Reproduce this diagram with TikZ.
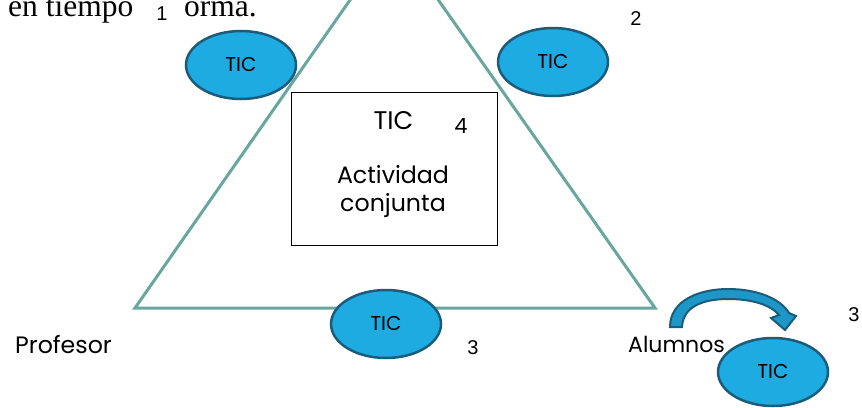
\documentclass[tikz,border=0pt]{standalone}
\usepackage{fontspec}
\setmainfont{Poppins}
\newfontfamily\serifnum{Liberation Serif}
\newfontfamily\arialf{Liberation Sans}
\usetikzlibrary{shapes.geometric}
\definecolor{ticfill}{HTML}{1EABE2}
\definecolor{ticedge}{HTML}{1B5C7A}
\definecolor{tri}{HTML}{6AA6A0}
\tikzset{
 ticnode/.style={ellipse, draw=ticedge, fill=ticfill, line width=2.5pt, minimum width=110pt, minimum height=68pt, inner sep=0pt, font=\fontsize{20}{22}\selectfont},
 lbl/.style={anchor=base, inner sep=0pt, font=\fontsize{23.7}{28}\selectfont},
 num/.style={anchor=base, inner sep=0pt, font=\arialf\fontsize{20}{24}\selectfont},
}
\begin{document}
\begin{tikzpicture}[x=1pt,y=-1pt]
\useasboundingbox (0,0) rectangle (862,407);
\clip (0,0) rectangle (862,407);
\fill[white] (0,0) rectangle (862,407);
% triangle
\coordinate (apex) at (394,-63);
\coordinate (prof) at (135,308);
\coordinate (alum) at (655,308);
\draw[tri, line width=3pt, line join=miter] (apex) -- (prof) -- (alum) -- cycle;
% top text (cut off by the top edge, as in the reference)
\node[anchor=base west, inner sep=0pt, font=\serifnum\fontsize{31.5}{36}\selectfont] (t1) at (8,16.5) {en tiempo};
\node[anchor=base west, inner sep=0pt, font=\serifnum\fontsize{31.5}{36}\selectfont] (t2) at (184,16.5) {orma.};
\node[num] (n1) at (162,20) {1};
% central box
\node[draw=black, line width=0.9pt, fill=white, minimum width=206pt, minimum height=153pt, inner sep=0pt] (box) at (394,168.5) {};
\node[lbl, font=\fontsize{25.5}{28}\selectfont] (tic4) at (393.5,129) {TIC};
\node[lbl] (act) at (393,183) {Actividad};
\node[lbl] (conj) at (393,211.7) {conjunta};
\node[lbl, font=\fontsize{21}{24}\selectfont] (n4) at (461,133) {4};
% ellipses
\node[ticnode] (e1) at (241,65) {\raisebox{1.5pt}{TIC}};
\node[ticnode] (e2) at (553,62) {\raisebox{1.5pt}{TIC}};
\node[ticnode] (e3) at (386,324) {\raisebox{1.5pt}{TIC}};
\node[ticnode] (e4) at (773,372) {\raisebox{1pt}{TIC}};
% labels
\node[lbl, anchor=base west] (lprof) at (15,353) {Profesor};
\node[lbl, anchor=base west, font=\fontsize{22}{26}\selectfont] (lalum) at (628,352) {Alumnos};
\node[num] (n3a) at (473,354) {3};
\node[num] (n3b) at (854,321) {3};
\node[num] (n2) at (636,25) {2};
% curved arrow
\draw[ticedge, fill=ticfill!75!ticedge, line width=2pt, line join=miter]
  (670,327) .. controls (670,300) and (700,289) .. (728,289)
  .. controls (756,289) and (780,298) .. (789,313)
  -- (796,316) -- (785,330) -- (771,318) -- (779,315)
  .. controls (770,304) and (750,299) .. (728,299)
  .. controls (704,299) and (683,306) .. (682,327) -- cycle;
\end{tikzpicture}
\end{document}
